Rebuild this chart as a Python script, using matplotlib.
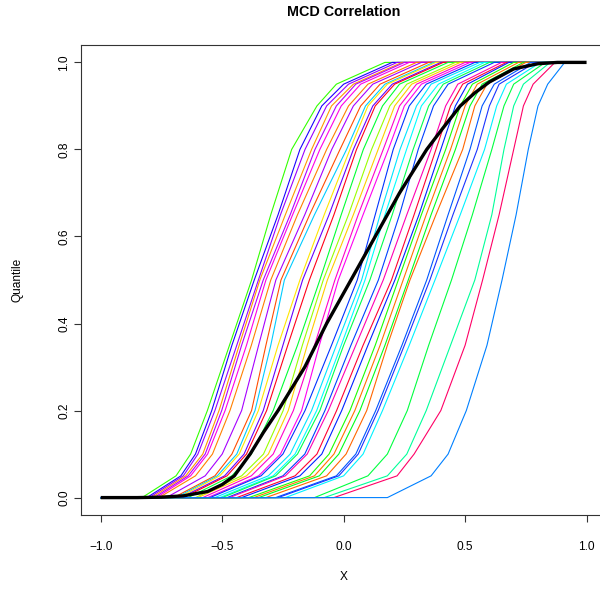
import matplotlib
matplotlib.use("Agg")
import matplotlib.pyplot as plt

LEVELS = [0.0, 0.05, 0.1, 0.2, 0.35, 0.5, 0.65, 0.8, 0.9, 0.95, 1.0]
X_LO = -1.0   # curves sit flat at 0 from here
X_HI = 0.92   # curves sit flat at 1 up to here

Q00 = [-0.83, -0.81, -0.80, -0.79, -0.78, -0.77, -0.76, -0.73, -0.70, -0.69,
       -0.68, -0.67, -0.66, -0.64, -0.61, -0.60, -0.58, -0.56, -0.55, -0.53,
       -0.51, -0.50, -0.48, -0.47, -0.44, -0.42, -0.39, -0.37, -0.35, -0.32,
       -0.28, -0.27, -0.24, -0.12, -0.08, -0.04, 0.18]
Q05 = [-0.69, -0.67, -0.66, -0.65, -0.64, -0.63, -0.61, -0.57, -0.53, -0.52,
       -0.51, -0.49, -0.48, -0.46, -0.42, -0.40, -0.38, -0.35, -0.34, -0.31,
       -0.29, -0.28, -0.25, -0.24, -0.20, -0.18, -0.14, -0.12, -0.10, -0.07,
       -0.03, -0.02, 0.00, 0.10, 0.18, 0.22, 0.36]
Q10 = [-0.63, -0.61, -0.60, -0.58, -0.57, -0.56, -0.54, -0.50, -0.46, -0.44,
       -0.43, -0.41, -0.40, -0.38, -0.33, -0.31, -0.29, -0.26, -0.25, -0.22,
       -0.20, -0.19, -0.16, -0.15, -0.11, -0.09, -0.06, -0.04, -0.02, 0.01,
       0.05, 0.06, 0.08, 0.18, 0.26, 0.29, 0.43]
Q20 = [-0.561, -0.543, -0.530, -0.513, -0.502, -0.488, -0.468, -0.420, -0.379, -0.365,
       -0.351, -0.331, -0.317, -0.290, -0.249, -0.228, -0.207, -0.173, -0.159, -0.132,
       -0.111, -0.098, -0.077, -0.063, -0.029, -0.008, 0.026, 0.046, 0.067, 0.095,
       0.132, 0.142, 0.160, 0.262, 0.340, 0.400, 0.505]
Q35 = [-0.47, -0.46, -0.44, -0.43, -0.42, -0.40, -0.38, -0.35, -0.32, -0.30,
       -0.27, -0.25, -0.23, -0.19, -0.17, -0.15, -0.12, -0.10, -0.05, -0.03,
       -0.01, 0.00, 0.03, 0.05, 0.08, 0.10, 0.13, 0.15, 0.17, 0.18,
       0.24, 0.25, 0.27, 0.35, 0.44, 0.50, 0.59]
Q50 = [-0.379, -0.368, -0.351, -0.345, -0.331, -0.320, -0.300, -0.279, -0.258, -0.244,
       -0.180, -0.169, -0.141, -0.098, -0.084, -0.067, -0.036, -0.022, 0.056, 0.074,
       0.088, 0.108, 0.143, 0.163, 0.197, 0.211, 0.225, 0.245, 0.266, 0.273,
       0.342, 0.355, 0.376, 0.444, 0.540, 0.572, 0.652]
Q65 = [-0.30, -0.27, -0.26, -0.24, -0.22, -0.21, -0.19, -0.16, -0.14, -0.12,
       -0.08, -0.06, -0.04, -0.01, 0.02, 0.04, 0.06, 0.08, 0.13, 0.15,
       0.17, 0.20, 0.23, 0.26, 0.29, 0.31, 0.32, 0.34, 0.36, 0.38,
       0.43, 0.45, 0.48, 0.53, 0.61, 0.64, 0.71]
Q80 = [-0.214, -0.180, -0.159, -0.132, -0.118, -0.098, -0.070, -0.049, -0.015, 0.012,
       0.026, 0.040, 0.053, 0.081, 0.115, 0.142, 0.163, 0.184, 0.204, 0.232,
       0.259, 0.286, 0.307, 0.36, 0.38, 0.40, 0.42, 0.44, 0.46, 0.49,
       0.52, 0.55, 0.58, 0.61, 0.66, 0.70, 0.76]
Q90 = [-0.11, -0.09, -0.07, -0.05, -0.03, -0.01, 0.02, 0.04, 0.07, 0.09,
       0.10, 0.12, 0.13, 0.16, 0.19, 0.21, 0.23, 0.25, 0.27, 0.30,
       0.32, 0.35, 0.37, 0.42, 0.44, 0.46, 0.48, 0.50, 0.52, 0.54,
       0.57, 0.60, 0.63, 0.66, 0.70, 0.74, 0.80]
Q95 = [-0.03, 0.00, 0.02, 0.04, 0.05, 0.07, 0.10, 0.12, 0.15, 0.17,
       0.18, 0.20, 0.21, 0.23, 0.26, 0.28, 0.30, 0.32, 0.34, 0.36,
       0.39, 0.41, 0.43, 0.47, 0.49, 0.51, 0.53, 0.55, 0.57, 0.59,
       0.62, 0.64, 0.67, 0.70, 0.74, 0.78, 0.84]
Q100 = [0.17, 0.20, 0.22, 0.24, 0.25, 0.27, 0.30, 0.32, 0.35, 0.37,
        0.38, 0.40, 0.41, 0.43, 0.46, 0.48, 0.50, 0.52, 0.54, 0.56,
        0.58, 0.60, 0.62, 0.65, 0.67, 0.68, 0.70, 0.72, 0.74, 0.75,
        0.77, 0.79, 0.81, 0.83, 0.85, 0.87, 0.91]

COLORS = ["#33FF00", "#1A00FF", "#9900FF", "#FF9900", "#B300FF", "#FF00E6", "#FF8000",
          "#A600FF", "#FF4D00", "#00CCFF", "#FFE600", "#6600FF", "#FF0019", "#00FF33",
          "#99FF00", "#FFCC00", "#FF00CC", "#FF00F2", "#0033FF", "#00E5FF", "#00FFFF",
          "#00FF4D", "#0040FF", "#FF00B3", "#FF0033", "#0022FF", "#1AFF00", "#FF7300",
          "#00FF1A", "#FF6600", "#0055FF", "#1A33FF", "#00F2FF", "#00FF40", "#00FF99",
          "#FF0066", "#0080FF"]

# thick black reference curve
BLACK_X = [-1.0, -0.85, -0.75, -0.66, -0.56, -0.50, -0.45, -0.385, -0.33, -0.27,
           -0.16, -0.07, 0.03, 0.13, 0.23, 0.342, 0.41, 0.48, 0.54, 0.60,
           0.70, 0.80, 0.88, 1.0]
BLACK_Y = [0.0, 0.0, 0.001, 0.004, 0.014, 0.03, 0.05, 0.10, 0.15, 0.20,
           0.30, 0.40, 0.50, 0.60, 0.70, 0.80, 0.85, 0.90, 0.93, 0.955,
           0.985, 0.997, 1.0, 1.0]

W, H = 600, 594
plt.rcParams["font.family"] = ["Liberation Sans", "DejaVu Sans"]

fig = plt.figure(figsize=(W / 100, H / 100), dpi=100)
left, right, top, bottom = 81.3, 606.0, 45.0, 515.0
ax = fig.add_axes([left / W, 1 - bottom / H, (right - left) / W, (bottom - top) / H])

cols = [Q00, Q05, Q10, Q20, Q35, Q50, Q65, Q80, Q90, Q95, Q100]
for i, c in enumerate(COLORS):
    xs = [X_LO] + [col[i] for col in cols] + [X_HI]
    ys = [0.0] + LEVELS + [1.0]
    ax.plot(xs, ys, color=c, lw=0.8, solid_joinstyle="round")

ax.plot(BLACK_X, BLACK_Y, color="black", lw=2.4, solid_capstyle="butt",
        solid_joinstyle="round")

ax.set_xlim(-1.08, 1.08)
ax.set_ylim(-0.04, 1.04)
ax.set_xticks([-1.0, -0.5, 0.0, 0.5, 1.0])
ax.set_xticklabels(["\u22121.0", "\u22120.5", "0.0", "0.5", "1.0"])
ax.set_yticks([0.0, 0.2, 0.4, 0.6, 0.8, 1.0])
ax.set_yticklabels(["0.0", "0.2", "0.4", "0.6", "0.8", "1.0"], rotation=90, va="center")
ax.tick_params(axis="both", direction="out", length=5, width=0.8, labelsize=8.6, color="#333333")
ax.tick_params(axis="x", pad=14)
ax.tick_params(axis="y", pad=3)
for s in ax.spines.values():
    s.set_linewidth(0.8)
    s.set_color("#333333")

cx = (left + right) / 2
fig.text(cx / W, 1 - 12 / H, "MCD Correlation", ha="center", va="center",
         fontsize=10.4, fontweight="bold")
fig.text(cx / W, 1 - 577 / H, "X", ha="center", va="center", fontsize=8.6)
fig.text(18 / W, 1 - 280 / H, "Quantile", ha="center", va="center", rotation=90, fontsize=8.6)

fig.savefig("out.png", dpi=100)
